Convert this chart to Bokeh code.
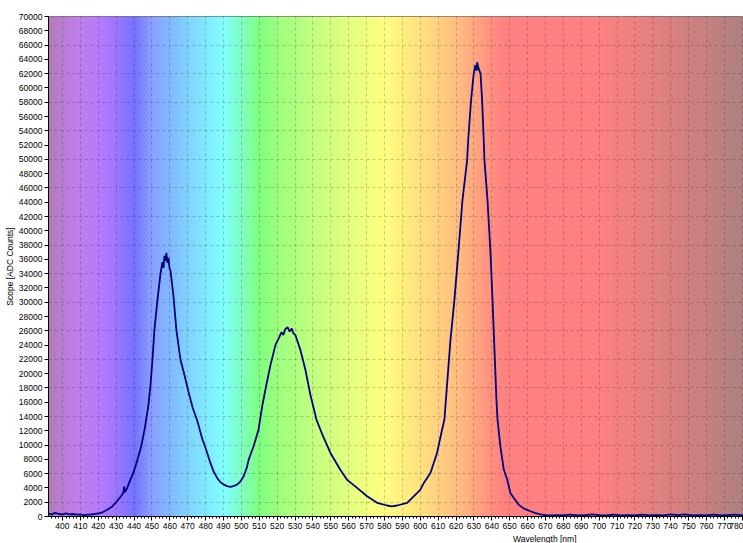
import numpy as np
from bokeh.plotting import figure
from bokeh.models import FixedTicker, NumeralTickFormatter, Range1d, Title
from bokeh.embed import file_html
from bokeh.resources import INLINE

# ---- data ----
wavelength = [392, 394, 396, 398, 400, 402, 404, 406, 408, 410, 412, 414, 416, 418,
              420, 422, 424, 426, 428, 430, 432, 434, 434.5, 435, 436, 438, 440, 442,
              444, 446, 448, 449.2, 450.3, 451.4, 453.1, 454.8, 455.9, 456.5, 457.0,
              457.6, 458.1, 458.7, 459.3, 459.8, 460.4, 462.0, 463.7, 466.0, 468.2,
              470.4, 472.7, 475.5, 478, 480, 482.7, 484.5, 486.5, 488.3, 490.2, 492,
              494, 496, 497.6, 499.5, 501.3, 503, 504.1, 506.8, 509.6, 511.8, 514.0,
              516.3, 519.1, 521, 522.5, 523.5, 524.5, 525.8, 527, 528.2, 529.2, 530.2,
              533.0, 535.8, 538.6, 542.0, 545.3, 549.8, 555.4, 559, 564.7, 570.3,
              575.9, 581.5, 584, 587.1, 592.7, 598.3, 600.1, 602, 605.7, 609.4, 612.2,
              613.5, 615.2, 616.9, 619.1, 621.4, 623.6, 626.2, 626.8, 628.4, 629.9,
              630.8, 631.5, 631.8, 632.5, 633.7, 634.6, 635.5, 635.9, 637.6, 639.2,
              640.4, 641.5, 642.6, 643.2, 644.8, 646.7, 648.6, 650.4, 652.3, 655.1,
              658, 661.6, 664, 667.2, 670, 672.8, 676, 680, 684, 688, 692, 696, 700,
              704, 708, 712, 716, 720, 724, 728, 732, 736, 740, 744, 748, 752, 756,
              760, 764, 768, 772, 776, 780, 782]
counts = [400, 300, 500, 350, 300, 450, 300, 350, 250, 300, 200, 250, 280, 350,
          450, 550, 800, 1100, 1450, 2000, 2600, 3300, 4200, 3400, 3900, 5170, 6400, 8000,
          9800, 12300, 15500, 18400, 21900, 26100, 30300, 34000, 35600, 34800, 36500,
          35800, 36900, 35500, 36200, 34800, 34400, 31000, 26100, 21900, 19800,
          17500, 15300, 13300, 11000, 9600, 7500, 6300, 5400, 4800, 4470, 4250,
          4150, 4300, 4470, 4900, 5630, 6800, 7960, 9800, 12150, 15650, 18440,
          21230, 24030, 25000, 25800, 25400, 26200, 26500, 25900, 26300, 25600, 25400,
          23330, 20540, 17040, 13550, 11460, 8900, 6500, 5170, 4000, 2840,
          1910, 1540, 1420, 1540, 1910, 3300, 3770, 4700, 6100, 8900, 12150,
          13550, 19140, 24730, 30300, 37300, 44280, 49870, 52670, 58250, 62000,
          63200, 62400, 63600, 62800, 62000, 58250, 52670, 49870, 44280, 37300,
          30300, 23300, 16340, 13550, 9820, 6570, 5170, 3300, 2600, 1630,
          1100, 740, 500, 300, 200, 150, 200, 150, 250, 150, 200, 300, 200,
          150, 250, 150, 200, 150, 250, 150, 200, 150, 300, 200, 300, 150, 200,
          150, 250, 150, 200, 250, 150, 200]

x_ticks = list(range(400, 790, 10))
x_minor = list(range(392, 784, 2))
y_ticks = list(range(0, 70001, 2000))
y_grid = list(range(2000, 70000, 4000))

# ---- background spectrum colour stops (style) ----
stop_nm = [392, 400, 410, 420, 430, 440, 450, 460, 470, 480, 490, 500, 510, 520,
           540, 560, 580, 600, 620, 640, 648, 700, 720, 740, 760, 782]
stop_rgb = [(176, 124, 180), (186, 124, 215), (192, 126, 236), (182, 124, 252),
            (160, 118, 255), (116, 116, 255), (140, 160, 255), (128, 186, 255),
            (128, 212, 255), (128, 234, 255), (128, 255, 255), (128, 255, 196),
            (128, 255, 128), (158, 255, 128), (195, 255, 128), (228, 255, 128),
            (255, 255, 128), (255, 226, 128), (255, 192, 128), (255, 144, 128),
            (255, 128, 128), (254, 128, 128), (237, 128, 128), (218, 128, 128),
            (198, 128, 128), (174, 128, 128)]

X0, X1 = 392.2, 780.7
Y0, Y1 = 0, 70000
W, H = 743, 543
ML, MR, MT, MB = 48, 0, 16, 26
FONT = "Liberation Sans"

p = figure(width=W, height=H, output_backend="svg", toolbar_location=None,
           x_range=Range1d(X0, X1), y_range=Range1d(Y0, Y1),
           min_border_left=ML, min_border_right=MR, min_border_top=MT,
           min_border_bottom=MB)
p.background_fill_color = "white"
p.border_fill_color = "white"
p.outline_line_color = "#707070"

# gradient background image
n = 1000
bg_nm = np.linspace(X0, X1, n)
rgb = np.array(stop_rgb, dtype=float)
img = np.empty((1, n), dtype=np.uint32)
view = img.view(dtype=np.uint8).reshape((1, n, 4))
for c in range(3):
    view[0, :, c] = np.interp(bg_nm, stop_nm, rgb[:, c]).astype(np.uint8)
view[0, :, 3] = 255
bg = p.image_rgba(image=[img], x=X0, y=Y0, dw=X1 - X0, dh=Y1 - Y0)
bg.level = "image"

# grid
p.xgrid.ticker = FixedTicker(ticks=x_ticks)
p.ygrid.ticker = FixedTicker(ticks=y_grid)
for g in (p.xgrid, p.ygrid):
    g.grid_line_color = "#000000"
    g.grid_line_alpha = 0.2
    g.grid_line_dash = "3 3"
    g.grid_line_width = 1

# spectrum line
p.line(wavelength, counts, line_color="#00007f", line_width=1.8)

# axes
xa = p.xaxis[0]
xa.ticker = FixedTicker(ticks=x_ticks, minor_ticks=x_minor)
xa.axis_line_color = "black"
xa.major_tick_line_color = "black"
xa.minor_tick_line_color = "black"
xa.major_tick_out = 4
xa.major_tick_in = 0
xa.minor_tick_out = 2
xa.minor_tick_in = 0
xa.major_label_standoff = 2
xa.major_label_text_font = FONT
xa.major_label_text_font_size = "8.5px"
xa.major_label_text_color = "black"

ya = p.yaxis[0]
ya.ticker = FixedTicker(ticks=y_ticks)
ya.formatter = NumeralTickFormatter(format="0")
ya.axis_line_color = "black"
ya.major_tick_line_color = "black"
ya.minor_tick_line_color = None
ya.major_tick_out = 4
ya.major_tick_in = 0
ya.major_label_standoff = 2
ya.major_label_text_font = FONT
ya.major_label_text_font_size = "8.5px"
ya.major_label_text_color = "black"
ya.axis_label = "Scope [ADC Counts]"
ya.axis_label_text_font = FONT
ya.axis_label_text_font_size = "8.5px"
ya.axis_label_text_font_style = "normal"
ya.axis_label_text_color = "black"
ya.axis_label_standoff = 1

# x axis title, right-aligned at an offset from the frame's right edge
xt = Title(text="Wavelength [nm]", align="right", offset=167, standoff=0,
           text_font=FONT, text_font_size="8.5px", text_font_style="normal",
           text_color="black")
p.add_layout(xt, "below")

open("out.html", "w").write(file_html(p, INLINE))
